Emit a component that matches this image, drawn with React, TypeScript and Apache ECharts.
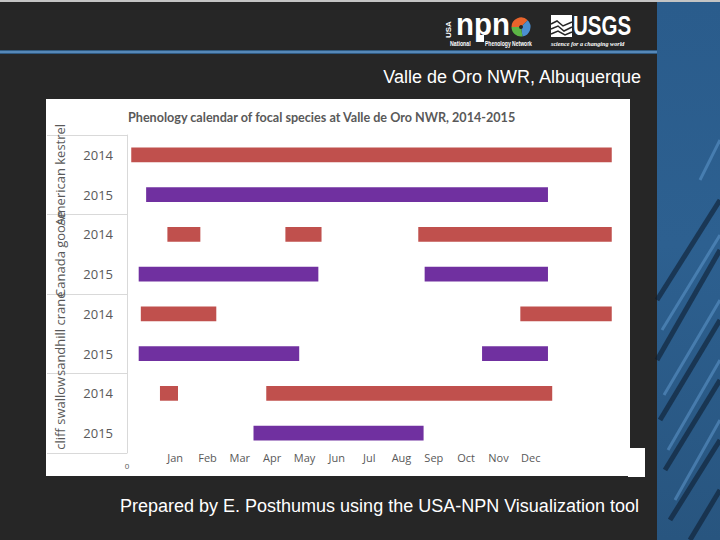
import React, { useEffect, useRef } from "react";
import * as echarts from "echarts";

const rowLabels = ["2014", "2015", "2014", "2015", "2014", "2015", "2014", "2015"];
const speciesLabels = ["American kestrel", "Canada goose", "sandhill crane", "cliff swallow"];
const monthLabels = ["Jan", "Feb", "Mar", "Apr", "May", "Jun", "Jul", "Aug", "Sep", "Oct", "Nov", "Dec"];
// [rowIndex, startDay, endDay]
const segments2014 = [
  [0, 4, 456],
  [2, 38, 69],
  [2, 149, 183],
  [2, 274, 456],
  [4, 13, 84],
  [4, 370, 456],
  [6, 31, 48],
  [6, 131, 400],
];
const segments2015 = [
  [1, 18, 396],
  [3, 11, 180],
  [3, 280, 396],
  [5, 11, 162],
  [5, 334, 396],
  [7, 119, 279],
];
const xMax = 460;

const chartTitle = "Phenology calendar of focal species at Valle de Oro NWR, 2014-2015";
const slideTitle = "Valle de Oro NWR, Albuquerque";
const footer = "Prepared by E. Posthumus using the USA-NPN Visualization tool";

const renderBar = (params: any, api: any) => {
  const row = api.value(0);
  const p0 = api.coord([api.value(1), row]);
  const p1 = api.coord([api.value(2), row]);
  const h = api.size([0, 1])[1] * 0.37;
  return {
    type: "rect",
    shape: { x: p0[0], y: p0[1] - h / 2, width: p1[0] - p0[0], height: h },
    style: { fill: api.visual("color") },
  };
};

export default function App() {
  const ref = useRef<HTMLDivElement>(null);
  useEffect(() => {
    document.body.style.margin = "0";
    const chart = echarts.init(ref.current!, null, { renderer: "svg" });
    const gray = "#595959";
    const streaks = [
      [[657, 300], [720, 200]],
      [[657, 360], [720, 250]],
      [[660, 420], [720, 320]],
      [[665, 470], [720, 380]],
      [[670, 520], [720, 440]],
      [[690, 540], [720, 490]],
    ];
    const lights = [
      [[662, 330], [720, 235]],
      [[664, 395], [720, 300]],
      [[668, 450], [720, 360]],
      [[675, 500], [720, 420]],
      [[700, 180], [720, 140]],
    ];
    chart.setOption({
      animation: false,
      backgroundColor: "#262626",
      title: [
        {
          text: chartTitle,
          left: 128,
          top: 111,
          padding: 0,
          textStyle: { fontFamily: "Lato", fontSize: 12.6, fontWeight: "bold", color: gray },
        },
        {
          text: slideTitle,
          right: 78,
          top: 68,
          padding: 0,
          textStyle: { fontFamily: "Liberation Sans", fontSize: 18, fontWeight: "normal", color: "#ffffff" },
        },
        {
          text: footer,
          left: 120,
          top: 497,
          padding: 0,
          textStyle: { fontFamily: "Liberation Sans", fontSize: 18, fontWeight: "normal", color: "#ffffff" },
        },
      ],
      graphic: [
        { type: "rect", z: -20, shape: { x: 0, y: 0, width: 720, height: 2 }, style: { fill: "#c4c4c4" } },
        { type: "rect", z: -20, shape: { x: 0, y: 50, width: 657, height: 4 }, style: { fill: "#2f5a82" } },
        { type: "rect", z: -19, shape: { x: 0, y: 51, width: 657, height: 2 }, style: { fill: "#5688b8" } },
        {
          type: "rect",
          z: -20,
          shape: { x: 657, y: 2, width: 63, height: 538 },
          style: {
            fill: new echarts.graphic.LinearGradient(0, 0, 0, 1, [
              { offset: 0, color: "#2a5c8c" },
              { offset: 0.45, color: "#2d6090" },
              { offset: 1, color: "#28557f" },
            ]),
          },
        },
        ...streaks.map((s) => ({
          type: "line",
          z: -19,
          shape: { x1: s[0][0], y1: s[0][1], x2: s[1][0], y2: s[1][1] },
          style: { stroke: "#0e1d2e", lineWidth: 5, opacity: 0.6 },
        })),
        ...lights.map((s) => ({
          type: "line",
          z: -19,
          shape: { x1: s[0][0], y1: s[0][1], x2: s[1][0], y2: s[1][1] },
          style: { stroke: "#5e97cc", lineWidth: 3, opacity: 0.55 },
        })),
        { type: "rect", z: -18, shape: { x: 46, y: 99, width: 584, height: 377 }, style: { fill: "#ffffff" } },
        { type: "rect", z: -18, shape: { x: 628, y: 448, width: 17, height: 29 }, style: { fill: "#ffffff" } },
        // NPN logo
        {
          type: "text",
          z: 10,
          x: 452,
          y: 38,
          rotation: Math.PI / 2,
          style: { text: "USA", fill: "#ffffff", fontSize: 8, fontWeight: "bold", fontFamily: "Liberation Sans", align: "left", verticalAlign: "bottom" },
        },
        {
          type: "text",
          z: 10,
          x: 456,
          y: 40,
          scaleX: 0.95,
          style: { text: "npn", fill: "#ffffff", fontSize: 31, fontWeight: "bold", fontFamily: "Liberation Sans", align: "left", verticalAlign: "bottom" },
        },
        { type: "sector", z: 10, shape: { cx: 521, cy: 27, r: 9.5, r0: 2, startAngle: Math.PI * 1.0, endAngle: Math.PI * 1.75 }, style: { fill: "#e8642c" } },
        { type: "sector", z: 10, shape: { cx: 521, cy: 27, r: 9.5, r0: 2, startAngle: Math.PI * 1.75, endAngle: Math.PI * 2.45 }, style: { fill: "#4b8fd1" } },
        { type: "sector", z: 10, shape: { cx: 521, cy: 27, r: 9.5, r0: 2, startAngle: Math.PI * 0.45, endAngle: Math.PI * 1.0 }, style: { fill: "#5cb545" } },
        {
          type: "text",
          z: 10,
          x: 450,
          y: 40,
          scaleX: 0.75,
          style: { text: "National", fill: "#ffffff", fontSize: 7, fontWeight: "bold", fontFamily: "Liberation Sans", align: "left", verticalAlign: "top" },
        },
        { type: "rect", z: 10, shape: { x: 479, y: 35, width: 5, height: 7 }, style: { fill: "#ffffff" } },
        {
          type: "text",
          z: 10,
          x: 485,
          y: 40,
          scaleX: 0.72,
          style: { text: "Phenology Network", fill: "#ffffff", fontSize: 7, fontWeight: "bold", fontFamily: "Liberation Sans", align: "left", verticalAlign: "top" },
        },
        // USGS logo
        { type: "rect", z: 10, shape: { x: 551, y: 15, width: 21, height: 22 }, style: { fill: "#ffffff" } },
        { type: "polyline", z: 11, shape: { points: [[551, 24], [557, 21], [563, 26], [572, 22]] }, style: { stroke: "#262626", lineWidth: 1.5, fill: null } },
        { type: "polyline", z: 11, shape: { points: [[551, 29], [558, 26], [564, 31], [572, 27]] }, style: { stroke: "#262626", lineWidth: 1.5, fill: null } },
        { type: "polyline", z: 11, shape: { points: [[551, 34], [558, 31], [565, 35], [572, 32]] }, style: { stroke: "#262626", lineWidth: 1.5, fill: null } },
        {
          type: "text",
          z: 10,
          x: 573,
          y: 39,
          scaleX: 0.76,
          style: { text: "USGS", fill: "#ffffff", fontSize: 27, fontWeight: "bold", fontFamily: "Liberation Sans", align: "left", verticalAlign: "bottom" },
        },
        {
          type: "text",
          z: 10,
          x: 551,
          y: 40,
          scaleX: 0.88,
          style: { text: "science for a changing world", fill: "#ffffff", fontSize: 7, fontStyle: "italic", fontWeight: "bold", fontFamily: "Liberation Serif", align: "left", verticalAlign: "top" },
        },
      ],
      grid: [
        { left: 127, top: 135, width: 489, height: 318 },
        { left: 159, top: 440, width: 388, height: 10 },
      ],
      xAxis: [
        {
          type: "value",
          gridIndex: 0,
          min: 0,
          max: xMax,
          interval: xMax,
          axisLine: { show: false },
          axisTick: { show: false },
          splitLine: { show: false },
          axisLabel: { formatter: (v: number) => (v === 0 ? "0" : ""), fontSize: 8, color: gray, margin: 8, fontFamily: "Open Sans" },
        },
        {
          type: "category",
          gridIndex: 1,
          data: monthLabels,
          axisLine: { show: false },
          axisTick: { show: false },
          axisLabel: { interval: 0, fontSize: 11, color: gray, margin: 2, fontFamily: "Open Sans" },
        },
      ],
      yAxis: [
        {
          type: "category",
          gridIndex: 0,
          position: "left",
          inverse: true,
          data: rowLabels,
          axisLine: { show: true, lineStyle: { color: "#d9d9d9", width: 1 } },
          axisTick: { show: false },
          axisLabel: { interval: 0, fontSize: 13, color: gray, margin: 14, fontFamily: "Open Sans" },
        },
        {
          type: "category",
          gridIndex: 0,
          position: "left",
          inverse: true,
          data: speciesLabels,
          axisLine: { show: false },
          axisTick: { show: true, length: 80, lineStyle: { color: "#d9d9d9", width: 1 } },
          axisLabel: { interval: 0, rotate: 90, fontSize: 13, color: gray, margin: 61, fontFamily: "Open Sans" },
        },
        { type: "value", gridIndex: 1, show: false, min: 0, max: 1 },
      ],
      series: [
        {
          name: "2014",
          type: "custom",
          xAxisIndex: 0,
          yAxisIndex: 0,
          renderItem: renderBar,
          itemStyle: { color: "#c0504d" },
          encode: { x: [1, 2], y: 0 },
          data: segments2014,
        },
        {
          name: "2015",
          type: "custom",
          xAxisIndex: 0,
          yAxisIndex: 0,
          renderItem: renderBar,
          itemStyle: { color: "#7030a0" },
          encode: { x: [1, 2], y: 0 },
          data: segments2015,
        },
        { type: "line", xAxisIndex: 1, yAxisIndex: 2, data: [], silent: true },
      ],
    });
    return () => chart.dispose();
  }, []);
  return <div ref={ref} style={{ width: 720, height: 540 }} />;
}
